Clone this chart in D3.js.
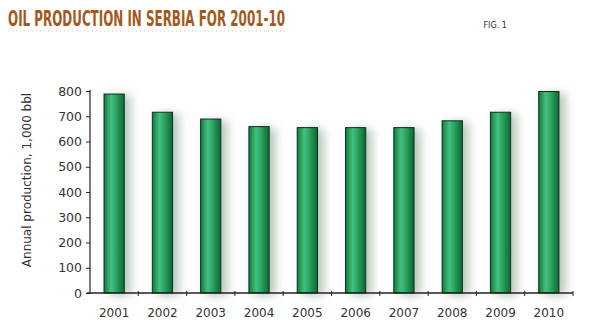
<!DOCTYPE html>
<html>
<head>
<meta charset="utf-8">
<script src="https://cdn.jsdelivr.net/npm/d3@7"></script>
<style>
	body { margin: 0; background: #fff; }
	svg { display: block; }
</style>
</head>
<body>
<div id="chart"></div>
<script>
var years = ["2001","2002","2003","2004","2005","2006","2007","2008","2009","2010"];
var production = [788, 716, 689, 659, 655, 655, 655, 682, 716, 798];
var yTicks = [0, 100, 200, 300, 400, 500, 600, 700, 800];

var w = 600, h = 323;
var margin = {top: 91, right: 27, bottom: 30, left: 90};

var svg = d3.select("#chart").append("svg")
	.attr("width", w)
	.attr("height", h)

var defs = svg.append("defs")

var grad = defs.append("linearGradient")
	.attr("id", "barfill")
	.attr("x1", "0%").attr("x2", "100%")
	.attr("y1", "0%").attr("y2", "0%")
grad.append("stop").attr("offset", "0%").attr("stop-color", "#107a40")
grad.append("stop").attr("offset", "35%").attr("stop-color", "#45c07c")
grad.append("stop").attr("offset", "55%").attr("stop-color", "#2faa66")
grad.append("stop").attr("offset", "100%").attr("stop-color", "#0d6634")

var shadow = defs.append("filter")
	.attr("id", "shadow")
	.attr("x", "-50%").attr("y", "-10%")
	.attr("width", "250%").attr("height", "120%")
shadow.append("feGaussianBlur")
	.attr("in", "SourceAlpha")
	.attr("stdDeviation", 5)
	.attr("result", "blur")
shadow.append("feOffset")
	.attr("dx", 6).attr("dy", 2)
	.attr("result", "off")
shadow.append("feFlood").attr("flood-color", "#6f8f76").attr("flood-opacity", 0.5)
shadow.append("feComposite").attr("in2", "off").attr("operator", "in").attr("result", "sh")
var merge = shadow.append("feMerge")
merge.append("feMergeNode").attr("in", "sh")
merge.append("feMergeNode").attr("in", "SourceGraphic")

// title
svg.append("text")
	.text("OIL PRODUCTION IN SERBIA FOR 2001-10")
	.attr("x", 8)
	.attr("y", 26)
	.attr("textLength", 277)
	.attr("lengthAdjust", "spacingAndGlyphs")
	.style("font-family", "'Liberation Sans Narrow', 'DejaVu Sans Condensed', sans-serif")
	.style("font-weight", 700)
	.style("font-size", "22px")
	.style("fill", "#a15a1c")

svg.append("line")
	.attr("x1", 8).attr("x2", 285)
	.attr("y1", 31).attr("y2", 31)
	.style("stroke", "#d9c7b4")
	.style("stroke-width", 1)
	.style("stroke-dasharray", "1,3")

svg.append("text")
	.text("FIG. 1")
	.attr("x", 507)
	.attr("y", 28)
	.attr("text-anchor", "end")
	.style("font-family", "'Liberation Sans Narrow', 'DejaVu Sans Condensed', sans-serif")
	.style("font-size", "9px")
	.style("fill", "#333")

var x = d3.scaleBand()
	.domain(years)
	.range([margin.left, w - margin.right])
	.paddingInner(0.58)
	.paddingOuter(0.29)

var y = d3.scaleLinear()
	.domain([0, 800])
	.range([h - margin.bottom, margin.top])

var bandStep = x.step();

// bars
svg.selectAll(".bar")
	.data(production)
	.enter()
	.append("rect")
	.attr("class", "bar")
	.attr("x", function(d, i) { return x(years[i]) })
	.attr("y", function(d) { return y(d) })
	.attr("width", x.bandwidth())
	.attr("height", function(d) { return y(0) - y(d) })
	.style("fill", "url(#barfill)")
	.style("stroke", "#0a2e18")
	.style("stroke-width", 1)
	.attr("filter", "url(#shadow)")

// y axis
var yAxis = d3.axisLeft(y).tickValues(yTicks).tickSize(4).tickPadding(4);
var gy = svg.append("g")
	.attr("transform", "translate(" + margin.left + ",0)")
	.call(yAxis)
gy.select(".domain").attr("d", "M0," + y(0) + "V" + (y(800) - 1)).style("stroke", "#222").style("stroke-width", 1.2)
gy.selectAll(".tick line").style("stroke", "#222")
gy.selectAll("text")
	.style("font-family", "'DejaVu Sans', sans-serif")
	.style("font-size", "12.5px")
	.style("fill", "#333")

// x axis
var gx = svg.append("g")
	.attr("transform", "translate(0," + y(0) + ")")
gx.append("line")
	.attr("x1", margin.left - 3).attr("x2", w - margin.right)
	.attr("y1", 0).attr("y2", 0)
	.style("stroke", "#222")
	.style("stroke-width", 1.5)
gx.selectAll(".xtick")
	.data(years)
	.enter()
	.append("line")
	.attr("class", "xtick")
	.attr("x1", function(d) { return x(d) + x.bandwidth() / 2 + bandStep / 2 })
	.attr("x2", function(d) { return x(d) + x.bandwidth() / 2 + bandStep / 2 })
	.attr("y1", -2).attr("y2", 3)
	.style("stroke", "#222")
gx.selectAll(".xlabel")
	.data(years)
	.enter()
	.append("text")
	.attr("class", "xlabel")
	.text(function(d) { return d })
	.attr("x", function(d) { return x(d) + x.bandwidth() / 2 })
	.attr("y", 24)
	.attr("text-anchor", "middle")
	.style("font-family", "'DejaVu Sans', sans-serif")
	.style("font-size", "12px")
	.style("fill", "#333")

// y label
svg.append("text")
	.text("Annual production, 1,000 bbl")
	.attr("transform", "translate(31," + 180 + ") rotate(-90)")
	.attr("text-anchor", "middle")
	.style("font-family", "'DejaVu Sans', sans-serif")
	.style("font-size", "12px")
	.style("fill", "#333")
</script>
</body>
</html>
